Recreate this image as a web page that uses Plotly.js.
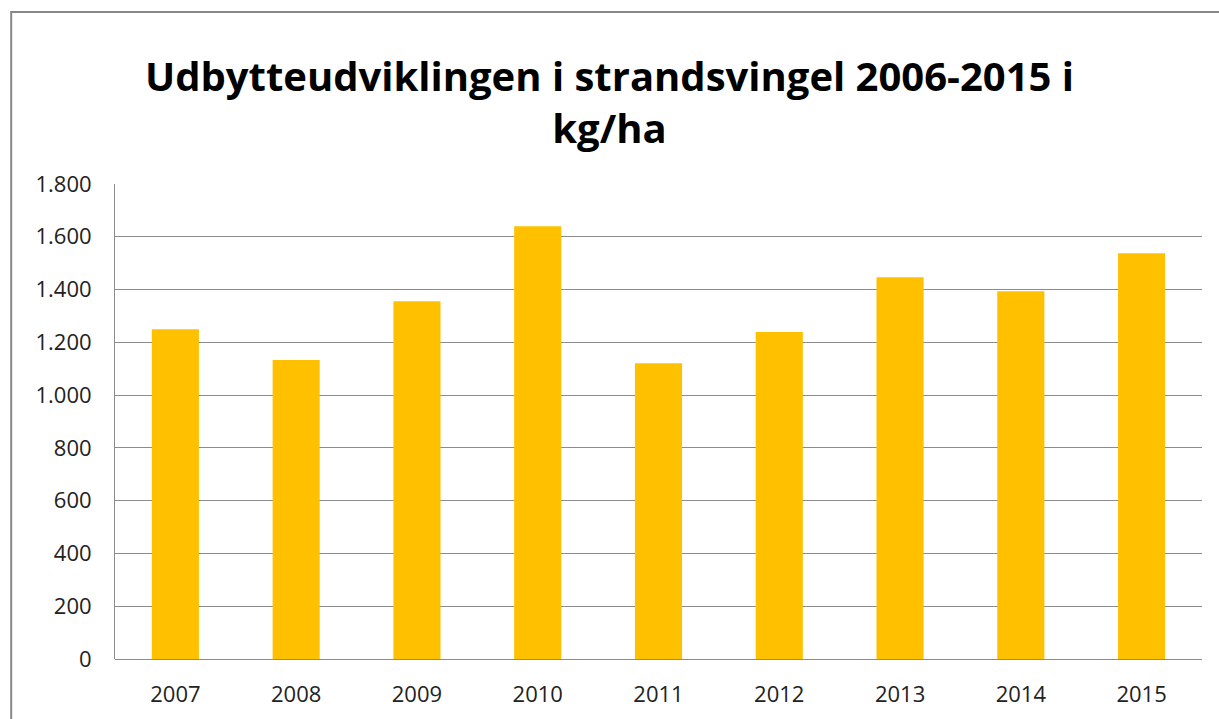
<!DOCTYPE html>
<html><head><meta charset="utf-8">
<script src="https://cdn.plot.ly/plotly-3.0.1.min.js"></script>
<style>html,body{margin:0;padding:0;background:#fff}#chart{width:1219px;height:719px}</style>
</head><body><div id="chart"></div>
<script>
const years = ['2007','2008','2009','2010','2011','2012','2013','2014','2015'];
const yields = [1250, 1133, 1356, 1640, 1121, 1239, 1447, 1394, 1538];
const yTicks = [0,200,400,600,800,1000,1200,1400,1600,1800];

const trace = {
  type: 'bar', x: years, y: yields,
  marker: {color: '#FFC000', line: {width: 0}},
  hoverinfo: 'x+y'
};
const layout = {
  width: 1219, height: 719,
  paper_bgcolor: '#fff', plot_bgcolor: '#fff',
  separators: ',.',
  margin: {l: 115, r: 17, t: 184, b: 60},
  bargap: 0.61,
  showlegend: false,
  title: {
    text: '<b>Udbytteudviklingen i strandsvingel 2006-2015 i<br>kg/ha</b>',
    font: {family: 'Open Sans, sans-serif', size: 40, color: '#000'},
    x: 0.5, xanchor: 'center', y: 0.874, yanchor: 'top'
  },
  xaxis: {
    type: 'category', showgrid: false, zeroline: false,
    showline: false, ticks: 'outside', ticklen: 16, tickcolor: 'rgba(0,0,0,0)',
    tickfont: {family: 'Open Sans, sans-serif', size: 22, color: '#222'}
  },
  yaxis: {
    range: [0, 1800], tickvals: yTicks, tickformat: ',d',
    showgrid: true, gridcolor: '#8c8c8c', gridwidth: 1,
    zeroline: true, zerolinecolor: '#8c8c8c', zerolinewidth: 1,
    showline: true, linecolor: '#8c8c8c', linewidth: 1,
    ticks: 'outside', ticklen: 18, tickcolor: 'rgba(0,0,0,0)',
    tickfont: {family: 'Open Sans, sans-serif', size: 22, color: '#222'}
  },
  shapes: [{type: 'rect', xref: 'paper', yref: 'paper', layer: 'above',
    x0: -0.0955, x1: 1.2, y0: -0.5, y1: 1.362,
    line: {color: '#888', width: 2}, fillcolor: 'rgba(0,0,0,0)'}]
};
Plotly.newPlot('chart', [trace], layout, {displayModeBar: false});
</script></body></html>
